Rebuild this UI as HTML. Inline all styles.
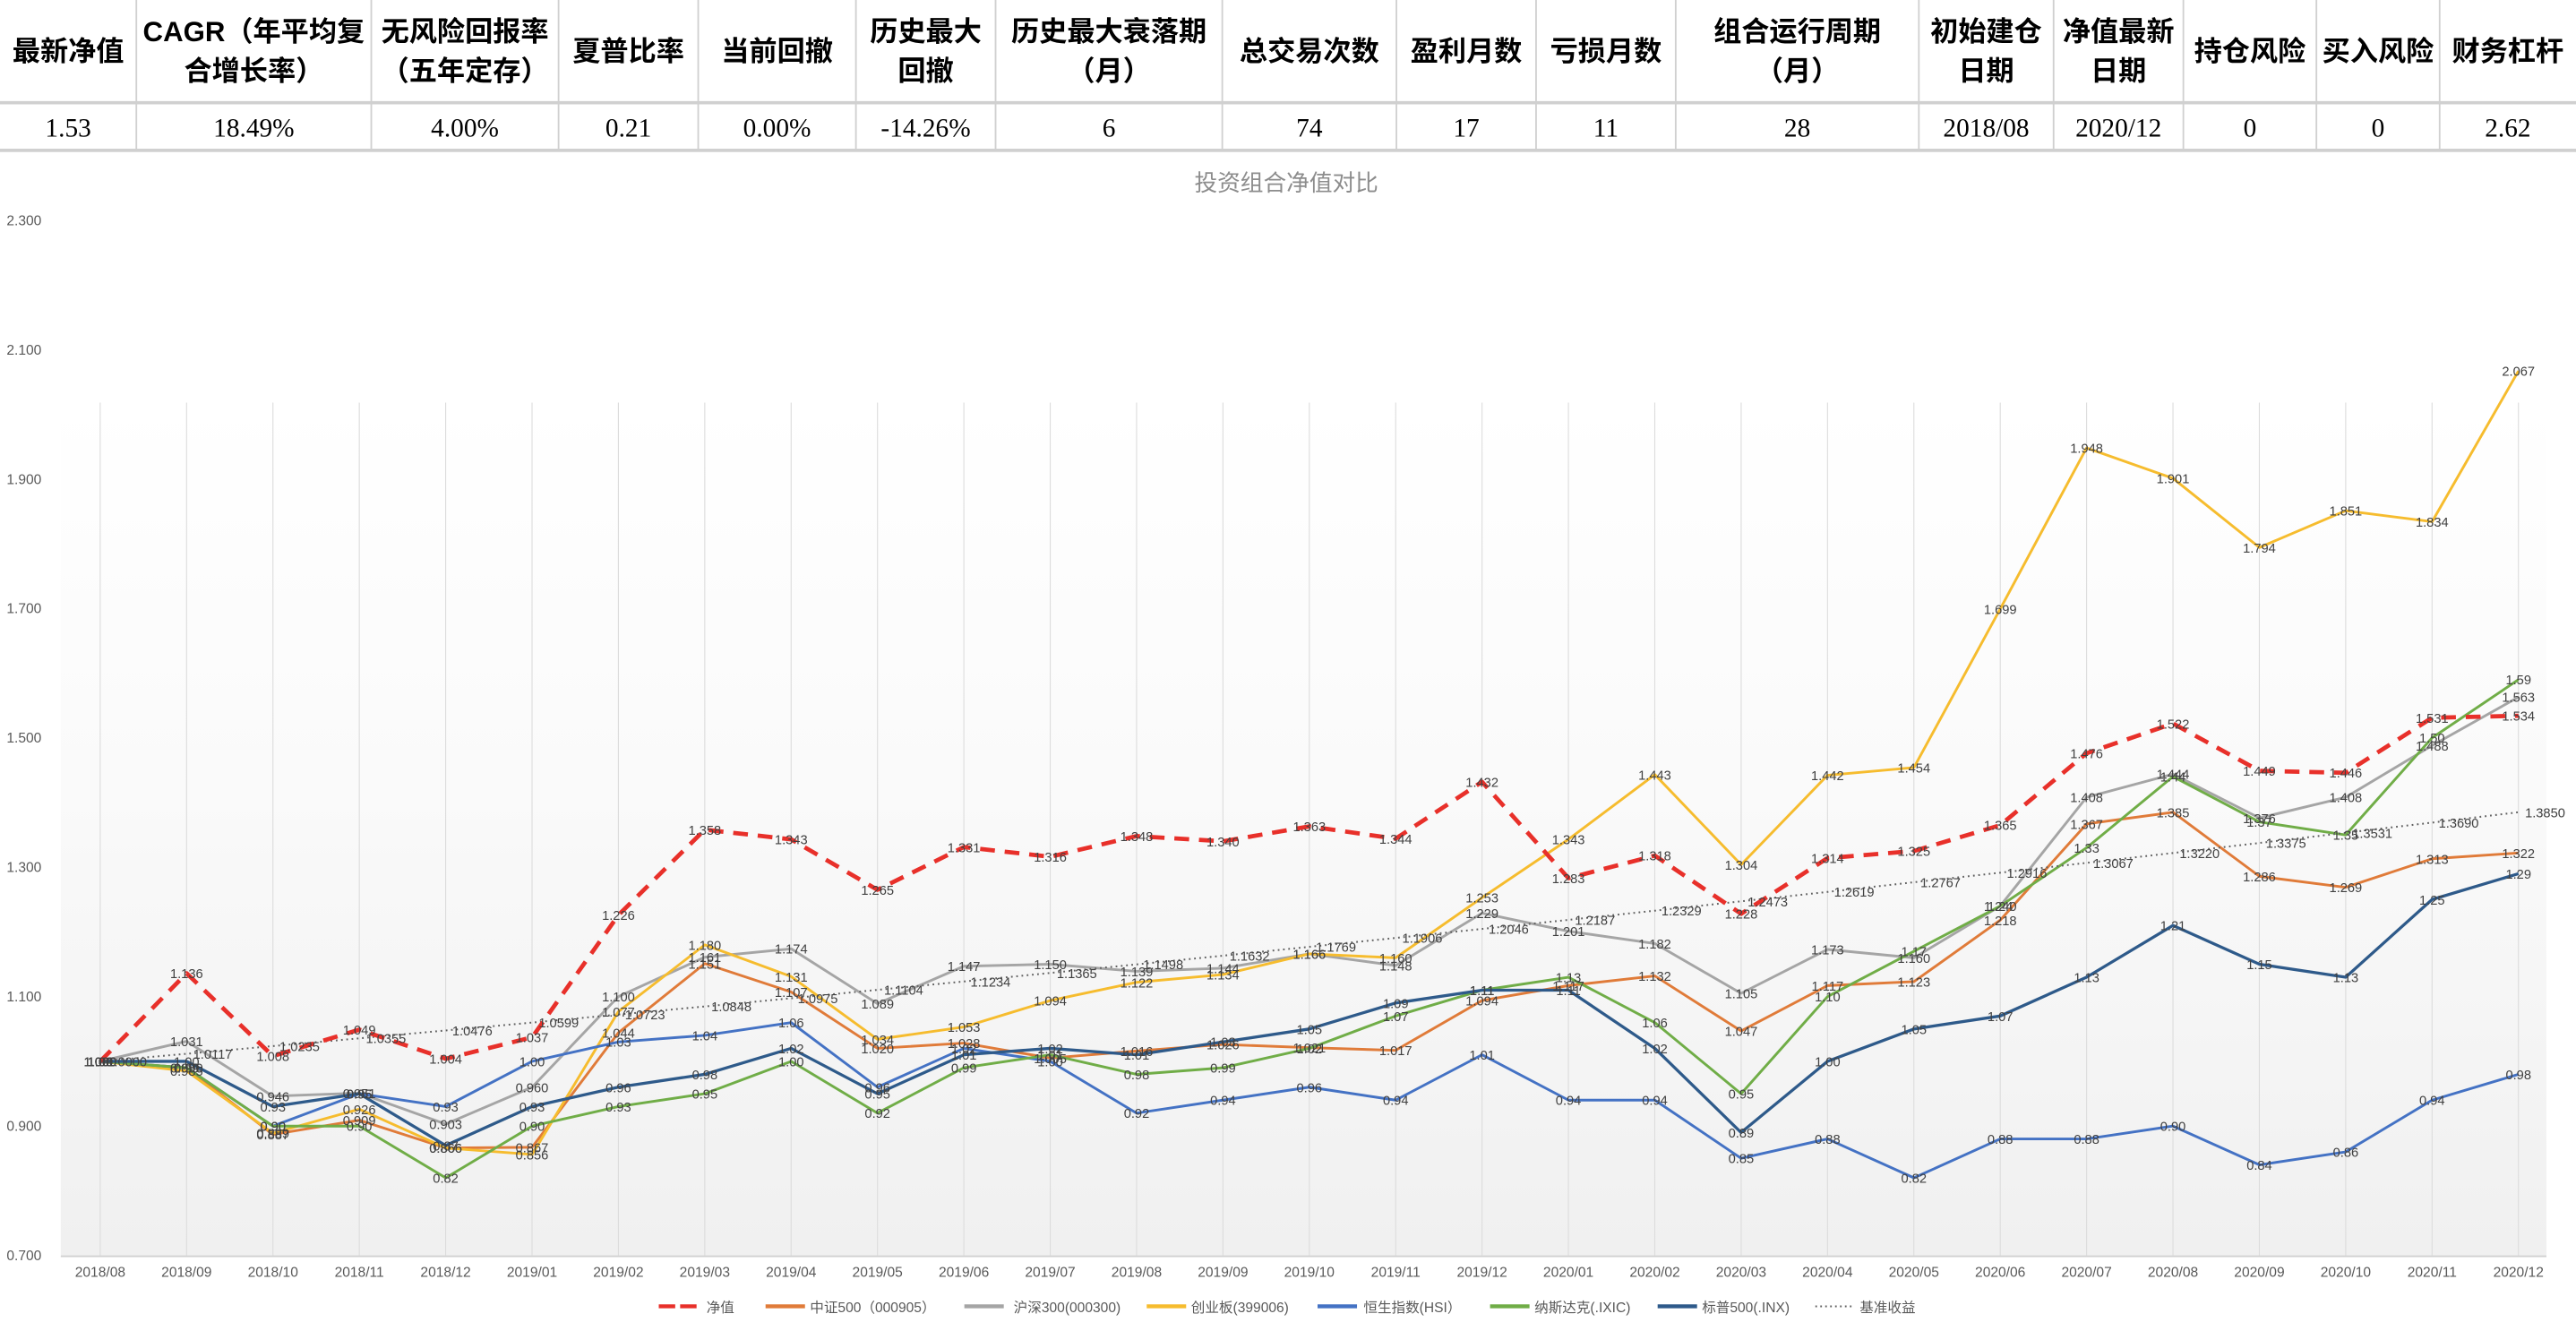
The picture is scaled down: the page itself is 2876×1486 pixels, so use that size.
<!DOCTYPE html>
<html><head><meta charset="utf-8">
<style>
html,body{margin:0;padding:0;background:#fff;}
svg{display:block;}
</style></head>
<body>
<svg id="s" width="2876" height="1486" viewBox="0 0 1568 810" preserveAspectRatio="none" xmlns="http://www.w3.org/2000/svg">
<defs>
<linearGradient id="bg" x1="0" y1="0" x2="0" y2="1">
<stop offset="0" stop-color="#ffffff"/><stop offset="0.45" stop-color="#fafafa"/><stop offset="1" stop-color="#f0f0f0"/>
</linearGradient>
</defs>
<g id="table" font-family="'Liberation Serif','Noto Serif CJK SC',serif" fill="#000" text-anchor="middle">
<line x1="0" y1="62.5" x2="1568" y2="62.5" stroke="#d0d0d0" stroke-width="2"/>
<line x1="0" y1="91.5" x2="1568" y2="91.5" stroke="#d0d0d0" stroke-width="2"/>
</g>
<text x="783" y="116" text-anchor="middle" font-family="'Liberation Sans','Noto Sans CJK SC',sans-serif" font-size="14" fill="#8c8c8c">投资组合净值对比</text>
<rect x="37" y="245" width="1513" height="519" fill="url(#bg)"/>
<g id="chart"></g>
</svg>
<script>
var NS="http://www.w3.org/2000/svg";
function el(p,t,a,txt){var e=document.createElementNS(NS,t);for(var k in a)e.setAttribute(k,a[k]);if(txt!==undefined)e.textContent=txt;p.appendChild(e);return e;}
var tb=document.getElementById('table');
var bounds=[0,83,226,340,425,521,606,744,850,935,1020,1168,1250,1329,1410,1485,1568];
var heads=[["最新净值"],["CAGR（年平均复","合增长率）"],["无风险回报率","（五年定存）"],["夏普比率"],["当前回撤"],["历史最大","回撤"],["历史最大衰落期","（月）"],["总交易次数"],["盈利月数"],["亏损月数"],["组合运行周期","（月）"],["初始建仓","日期"],["净值最新","日期"],["持仓风险"],["买入风险"],["财务杠杆"]];
var vals=["1.53","18.49%","4.00%","0.21","0.00%","-14.26%","6","74","17","11","28","2018/08","2020/12","0","0","2.62"];
for(var i=0;i<16;i++){
 var cx=(bounds[i]+bounds[i+1])/2;
 if(i>0){el(tb,'line',{x1:bounds[i],y1:0,x2:bounds[i],y2:91,stroke:'#d0d0d0','stroke-width':1});}
 var h=heads[i];
 if(h.length==1) el(tb,'text',{x:cx,y:37,'font-size':17,'font-weight':'bold','font-family':"'Liberation Sans','Noto Sans CJK SC',sans-serif"},h[0]);
 else {el(tb,'text',{x:cx,y:25,'font-size':17,'font-weight':'bold','font-family':"'Liberation Sans','Noto Sans CJK SC',sans-serif"},h[0]);
       el(tb,'text',{x:cx,y:49,'font-size':17,'font-weight':'bold','font-family':"'Liberation Sans','Noto Sans CJK SC',sans-serif"},h[1]);}
 el(tb,'text',{x:cx,y:83,'font-size':16},vals[i]);
}
var ch=document.getElementById('chart');
function Y(v){return 764-(v-0.7)*393.75;}
function X(i){return 61+i*52.57;}
var F="'Liberation Sans','Noto Sans CJK SC',sans-serif";
// grid
for(var i=0;i<29;i++){el(ch,'line',{x1:X(i),y1:245,x2:X(i),y2:764,stroke:'#dcdcdc','stroke-width':0.6});}
el(ch,'line',{x1:37,y1:764.5,x2:1550,y2:764.5,stroke:'#d0d0d0','stroke-width':1});
[2.3,2.1,1.9,1.7,1.5,1.3,1.1,0.9,0.7].forEach(function(v){el(ch,'text',{x:4,y:Y(v)+3,'font-size':8.5,fill:'#595959','font-family':F},v.toFixed(3));});
var months=[];for(var y=2018,m=8;months.length<29;){months.push(y+"/"+(m<10?"0"+m:m));m++;if(m>12){m=1;y++;}}
months.forEach(function(t,i){el(ch,'text',{x:X(i),y:777,'font-size':8.5,fill:'#595959','text-anchor':'middle','font-family':F},t);});
var S=[
 {n:"中证500（000905）",c:"#e07b39",w:1.6,d:[1.00,0.99,0.887,0.909,0.866,0.867,1.044,1.151,1.107,1.020,1.028,1.005,1.016,1.026,1.021,1.017,1.094,1.117,1.132,1.047,1.117,1.123,1.218,1.367,1.385,1.286,1.269,1.313,1.322],f:3},
 {n:"沪深300(000300)",c:"#a5a5a5",w:1.6,d:[1.00,1.031,0.946,0.951,0.903,0.960,1.100,1.161,1.174,1.089,1.147,1.150,1.139,1.144,1.166,1.148,1.229,1.201,1.182,1.105,1.173,1.160,1.240,1.408,1.444,1.376,1.408,1.488,1.563],f:3},
 {n:"创业板(399006)",c:"#f6bc2e",w:1.6,d:[1.00,0.985,0.889,0.926,0.866,0.856,1.077,1.180,1.131,1.034,1.053,1.094,1.122,1.134,1.166,1.160,1.253,1.343,1.443,1.304,1.442,1.454,1.699,1.948,1.901,1.794,1.851,1.834,2.067],f:3},
 {n:"恒生指数(HSI）",c:"#4472c4",w:1.6,d:[1.00,0.99,0.90,0.95,0.93,1.00,1.03,1.04,1.06,0.96,1.02,1.00,0.92,0.94,0.96,0.94,1.01,0.94,0.94,0.85,0.88,0.82,0.88,0.88,0.90,0.84,0.86,0.94,0.98],f:2},
 {n:"纳斯达克(.IXIC)",c:"#70ad47",w:1.6,d:[1.00,0.99,0.90,0.90,0.82,0.90,0.93,0.95,1.00,0.92,0.99,1.01,0.98,0.99,1.02,1.07,1.11,1.13,1.06,0.95,1.10,1.17,1.24,1.33,1.44,1.37,1.35,1.50,1.59],f:2},
 {n:"标普500(.INX)",c:"#2e5a8a",w:1.8,d:[1.00,1.00,0.93,0.95,0.87,0.93,0.96,0.98,1.02,0.95,1.01,1.02,1.01,1.03,1.05,1.09,1.11,1.11,1.02,0.89,1.00,1.05,1.07,1.13,1.21,1.15,1.13,1.25,1.29],f:2},
 {n:"基准收益",c:"#606060",w:1.1,dash:"1,2.2",d:[1.00,1.0117,1.0235,1.0355,1.0476,1.0599,1.0723,1.0848,1.0975,1.1104,1.1234,1.1365,1.1498,1.1632,1.1769,1.1906,1.2046,1.2187,1.2329,1.2473,1.2619,1.2767,1.2916,1.3067,1.3220,1.3375,1.3531,1.3690,1.3850],f:4,right:true},
 {n:"净值",c:"#e8302a",w:2.6,dash:"9,6",d:[1.00,1.136,1.008,1.049,1.004,1.037,1.226,1.358,1.343,1.265,1.331,1.316,1.348,1.340,1.363,1.344,1.432,1.283,1.318,1.228,1.314,1.325,1.365,1.476,1.522,1.449,1.446,1.531,1.534],f:3}
];
S.forEach(function(s){
 var p=s.d.map(function(v,i){return X(i).toFixed(1)+","+Y(v).toFixed(1);}).join(" ");
 var a={points:p,fill:"none",stroke:s.c,'stroke-width':s.w,'stroke-linejoin':'round'};
 if(s.dash)a['stroke-dasharray']=s.dash;
 el(ch,'polyline',a);
});
S.forEach(function(s){
 s.d.forEach(function(v,i){
  var t=(i==0&&s.f!=4)?v.toFixed(s.f==2?2:3):v.toFixed(s.f);
  if(s.right) el(ch,'text',{x:X(i)+4,y:Y(v)+3,'font-size':8,fill:'#404040','font-family':F},t);
  else el(ch,'text',{x:X(i),y:Y(v)+3,'font-size':8,fill:'#404040','text-anchor':'middle','font-family':F},t);
 });
});
// legend
var L=[["净值","#e8302a",401,430,"dash"],["中证500（000905）","#e07b39",466,493],["沪深300(000300)","#a5a5a5",587,617],["创业板(399006)","#f6bc2e",698,725],["恒生指数(HSI）","#4472c4",802,830],["纳斯达克(.IXIC)","#70ad47",907,934],["标普500(.INX)","#2e5a8a",1009,1036],["基准收益","#606060",1105,1132,"dot"]];
L.forEach(function(l){
 var a={x1:l[2],y1:795,x2:l[2]+24,y2:795,stroke:l[1],'stroke-width':l[4]=="dot"?1.1:2.4};
 if(l[4]=="dash")a['stroke-dasharray']="10,3";
 if(l[4]=="dot")a['stroke-dasharray']="1,2";
 el(ch,'line',a);
 el(ch,'text',{x:l[3],y:798.5,'font-size':8.5,fill:'#595959','font-family':F},l[0]);
});
</script>
</body></html>
